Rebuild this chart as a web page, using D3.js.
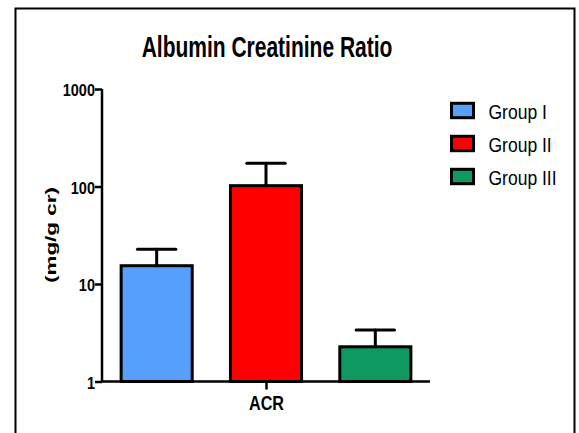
<!DOCTYPE html>
<html>
<head>
<meta charset="utf-8">
<script src="https://cdn.jsdelivr.net/npm/d3@7"></script>
<style>
  html, body { margin: 0; padding: 0; background: #fff; }
  svg { display: block; }
  text { fill: #000; }
</style>
</head>
<body>
<svg id="chart" width="579" height="433"></svg>
<script>
// Albumin creatinine ratio (mg/g cr), mean with upper error bar
const groups = ["Group I", "Group II", "Group III"];
const means = [15.4, 102, 2.27];
const upper = [22.7, 173, 3.37];
const colors = ["#56A0FB", "#FF0000", "#0F9960"];
const yTicks = [1, 10, 100, 1000];
const categoryLabel = "ACR";

const svg = d3.select("#chart");
const font = "'Liberation Sans', Arial, sans-serif";

// text with tall, condensed glyphs: stretched vertically by ry
function tallText(parent, x, y, str, size, ry, weight, anchor) {
  return parent.append("text")
    .attr("transform", `translate(${x},${y}) scale(1,${ry})`)
    .attr("text-anchor", anchor || "start")
    .style("font-family", font)
    .style("font-weight", weight || "normal")
    .style("font-size", size + "px")
    .text(str);
}

// outer frame
svg.append("rect")
  .attr("x", 15.5).attr("y", 8.5)
  .attr("width", 559).attr("height", 440)
  .attr("fill", "none").attr("stroke", "#000").attr("stroke-width", 2);

const plot = { left: 102, right: 430, top: 89, bottom: 381.5 };

const y = d3.scaleLog().domain([1, 1000]).range([plot.bottom, plot.top]);
const x = d3.scaleBand().domain(groups)
  .range([plot.left, plot.right])
  .paddingInner(0.35).paddingOuter(0.175);

// title
tallText(svg, 267, 56.5, "Albumin Creatinine Ratio", 21, 1.37, "bold", "middle");

// bars
svg.append("g").selectAll("rect")
  .data(groups)
  .join("rect")
  .attr("x", d => x(d))
  .attr("y", (d, i) => y(means[i]))
  .attr("width", x.bandwidth())
  .attr("height", (d, i) => y(1) - y(means[i]))
  .attr("fill", (d, i) => colors[i])
  .attr("stroke", "#000").attr("stroke-width", 3);

// error bars
const err = svg.append("g").attr("stroke", "#000").attr("stroke-width", 3).attr("stroke-linecap", "round");
groups.forEach((g, i) => {
  const cx = x(g) + x.bandwidth() / 2;
  const cap = x.bandwidth() * 0.27;
  err.append("line").attr("x1", cx).attr("x2", cx).attr("y1", y(means[i])).attr("y2", y(upper[i]));
  err.append("line").attr("x1", cx - cap).attr("x2", cx + cap).attr("y1", y(upper[i])).attr("y2", y(upper[i]));
});

// y axis
const yAxis = svg.append("g")
  .attr("transform", `translate(${plot.left},0)`)
  .call(d3.axisLeft(y).tickValues(yTicks).tickFormat(d3.format("d")).tickSize(7));
yAxis.select(".domain").attr("d", `M0,${plot.top}V${plot.bottom}`).attr("stroke-width", 2.5);
yAxis.selectAll(".tick line").attr("stroke-width", 2.5);
yAxis.selectAll(".tick text").remove();
yAxis.selectAll(".tick").each(function(d) {
  tallText(d3.select(this), -7, 6.5, d3.format("d")(d), 14.5, 1.13, "bold", "end");
});

// x axis
const xMid = d3.scalePoint().domain([categoryLabel]).range([plot.left, plot.right]).padding(0.5);
const xAxis = svg.append("g")
  .attr("transform", `translate(0,${plot.bottom})`)
  .call(d3.axisBottom(xMid).tickSize(8));
xAxis.select(".domain").attr("d", `M${plot.left},0H${plot.right}`).attr("stroke-width", 2.5);
xAxis.selectAll(".tick line").attr("stroke-width", 2.5);
xAxis.selectAll(".tick text").remove();
xAxis.selectAll(".tick").each(function(d) {
  tallText(d3.select(this), 0, 28.5, d, 16.2, 1.2, "bold", "middle");
});

// y axis title (rotated, stretched along its reading direction)
svg.append("text")
  .attr("transform", `translate(55.5,235) rotate(-90) scale(1.5,1)`)
  .attr("text-anchor", "middle")
  .style("font-family", font).style("font-weight", "bold").style("font-size", "15px")
  .text("(mg/g cr)");

// legend
const legend = svg.append("g");
groups.forEach((g, i) => {
  const row = legend.append("g").attr("transform", `translate(451.5,${110.5 + i * 33})`);
  row.append("rect")
    .attr("x", 0).attr("y", -7.2).attr("width", 22).attr("height", 14.4)
    .attr("fill", colors[i]).attr("stroke", "#000").attr("stroke-width", 3);
  tallText(row, 37, 8.5, g, 17.5, 1.17, "normal", "start");
});
</script>
</body>
</html>
